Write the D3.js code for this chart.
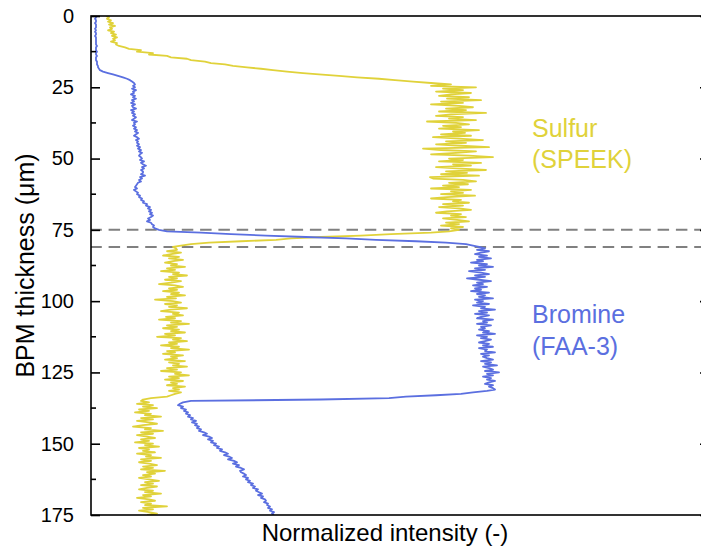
<!DOCTYPE html>
<html>
<head>
<meta charset="utf-8">
<script src="https://cdn.jsdelivr.net/npm/d3@7"></script>
<style>
  body { margin: 0; background: #fff; }
  svg text { font-family: "Liberation Sans", Arial, sans-serif; }
</style>
</head>
<body>
<div id="chart"></div>
<script>
// depth grid of the line scan (um), 0.5 um step
const depth = d3.range(0, 175.5, 0.5);

// S signal (SPEEK), a.u.
const sulfur = [
  15,18,16,20,17,22,18,24,19,21,
  17,23,20,25,21,26,22,24,20,26,
  25,28,34,38,50,46,62,58,76,80,
  96,100,114,120,134,142,156,170,182,196,
  212,228,248,266,288,304,322,340,360,340,
  385,352,372,345,380,360,348,378,356,390,
  350,372,340,368,382,355,375,348,395,360,
  345,372,358,385,336,365,378,352,370,348,
  388,362,374,350,380,342,368,392,355,375,
  345,370,398,332,350,385,365,340,378,402,
  358,372,348,390,362,380,345,370,395,355,
  376,350,388,339,342,372,385,358,377,352,
  368,340,380,360,372,350,384,356,340,370,
  362,378,352,372,348,368,380,356,345,370,
  360,375,352,366,378,355,368,350,372,360,
  368,358,340,300,270,230,200,185,150,118,
  100,90,82,85,86,76,90,80,72,88,
  78,92,82,74,86,80,94,76,84,70,
  88,82,96,78,86,74,90,80,68,84,
  92,78,86,72,88,80,94,76,85,64,
  82,90,74,86,78,96,80,70,88,82,
  92,75,84,68,90,80,98,76,86,72,
  88,80,94,74,84,66,90,82,96,78,
  86,70,88,80,98,76,84,72,92,80,
  86,74,94,78,88,82,96,76,86,70,
  90,84,98,78,88,74,92,80,86,76,
  94,82,88,78,90,84,80,76,60,52,
  50,58,46,62,52,66,48,58,44,60,
  54,70,50,62,46,58,66,52,42,60,
  54,72,50,62,46,56,64,50,58,44,
  62,54,68,48,58,52,64,46,60,55,
  70,50,60,48,58,66,52,62,50,74,
  56,64,52,60,48,58,68,54,62,50,
  66,56,48,62,54,70,52,60,46,58,
  64,50,60,54,76,52,62,48,58,66,
  56
];

// Br signal (FAA-3), a.u.
const bromine = [
  5,5,4,5,5,4,5,5,5,4,
  5,4,5,5,4,5,5,5,5,5,
  5,6,5,5,5,6,5,5,6,5,
  5,5,6,6,6,7,7,8,9,12,
  17,22,27,32,36,39,41,43,44,42,
  44,41,45,42,43,40,44,42,45,41,
  43,40,44,41,42,45,40,43,41,44,
  42,45,43,41,46,43,44,42,45,43,
  46,44,47,45,43,46,48,45,47,46,
  48,46,49,47,50,48,51,49,48,50,
  51,49,53,50,52,55,51,53,50,52,
  52,50,54,49,51,48,50,47,46,45,
  44,46,43,45,47,46,49,48,51,50,
  53,52,56,55,59,57,60,58,61,59,
  62,60,57,59,56,60,61,63,62,64,
  68,76,110,140,175,215,255,285,325,355,
  375,382,388,394,386,398,390,384,396,388,
  400,386,392,380,396,388,402,384,394,378,
  390,398,384,394,376,388,400,386,392,382,
  396,384,390,380,398,386,394,388,402,384,
  392,386,398,382,394,390,404,388,396,384,
  398,390,386,402,392,396,386,400,390,394,
  388,398,392,404,386,396,390,400,394,388,
  398,392,402,388,396,394,404,390,398,392,
  396,402,390,400,394,406,392,398,402,394,
  408,396,402,392,400,396,404,398,394,402,
  398,402,404,396,382,370,345,315,298,230,
  100,92,89,87,92,90,95,93,97,95,
  99,97,102,100,105,101,106,104,108,106,
  110,108,113,116,112,118,121,117,122,120,
  125,123,128,126,131,129,134,137,133,138,
  141,137,143,146,142,148,145,150,153,149,
  150,153,155,152,157,155,159,157,162,160,
  164,162,167,165,168,171,167,172,170,174,
  175,173,177,176,179,177,181,179,183,181,
  183
];

const yTicks = [0, 25, 50, 75, 100, 125, 150, 175];
const yMinorTicks = [12.5, 37.5, 62.5, 87.5, 112.5, 137.5, 162.5];
const interfaces = [75, 81];
const sulfurLabel = ["Sulfur", "(SPEEK)"];
const bromineLabel = ["Bromine", "(FAA-3)"];

const W = 701, H = 550;
const margin = { top: 16, right: -8, bottom: 35, left: 91 };
const width = W - margin.left - margin.right;
const height = H - margin.top - margin.bottom;

const yellow = "#e0d23a";
const blue = "#5b6fe0";

const svg = d3.select("#chart").append("svg")
  .attr("width", W)
  .attr("height", H);

const g = svg.append("g")
  .attr("transform", `translate(${margin.left},${margin.top})`);

const x = d3.scaleLinear().domain([0, 618]).range([0, width]);
const y = d3.scaleLinear().domain([0, 175]).range([0, height]);

g.append("clipPath").attr("id", "clip")
  .append("rect").attr("width", width).attr("height", height);

// interface lines
g.selectAll(".iface")
  .data(interfaces)
  .join("line")
  .attr("x1", 0)
  .attr("x2", width)
  .attr("y1", d => y(d))
  .attr("y2", d => y(d))
  .attr("stroke", "#808080")
  .attr("stroke-width", 2)
  .attr("stroke-dasharray", "11.5,6.8")
  .attr("stroke-dashoffset", 0.7);

const line = d3.line()
  .x(d => x(d.v))
  .y(d => y(d.t));

const sData = depth.map((t, i) => ({ t, v: sulfur[i] }));
const bData = depth.map((t, i) => ({ t, v: bromine[i] }));

const curves = g.append("g").attr("clip-path", "url(#clip)");

curves.append("path")
  .datum(sData)
  .attr("fill", "none")
  .attr("stroke", yellow)
  .attr("stroke-width", 1.8)
  .attr("stroke-linejoin", "round")
  .attr("d", line);

curves.append("path")
  .datum(bData)
  .attr("fill", "none")
  .attr("stroke", blue)
  .attr("stroke-width", 1.8)
  .attr("stroke-linejoin", "round")
  .attr("d", line);

// frame
g.append("rect")
  .attr("width", width)
  .attr("height", height)
  .attr("fill", "none")
  .attr("stroke", "#000")
  .attr("stroke-width", 1.6);

// left axis, ticks inside
const yAxis = g.append("g")
  .call(d3.axisLeft(y).tickValues(yTicks).tickSize(-9).tickPadding(17).tickSizeOuter(0));
yAxis.select(".domain").remove();
yAxis.selectAll(".tick line").attr("stroke-width", 1.6);
yAxis.selectAll(".tick text")
  .attr("font-size", 20)
  .attr("fill", "#000")
  .style("font-family", "'Liberation Sans', Arial, sans-serif");

g.append("g")
  .selectAll("line")
  .data(yMinorTicks)
  .join("line")
  .attr("x1", 0).attr("x2", 5)
  .attr("y1", d => y(d)).attr("y2", d => y(d))
  .attr("stroke", "#000").attr("stroke-width", 1.6);

// right axis (mirror), sits just past the window edge
const yRight = g.append("g")
  .attr("transform", `translate(${width},0)`)
  .call(d3.axisRight(y).tickValues(yTicks).tickSize(-9).tickFormat(""));
yRight.select(".domain").remove();
yRight.selectAll(".tick line").attr("stroke-width", 1.6);

// axis titles
svg.append("text")
  .attr("transform", `translate(34,${margin.top + height / 2}) rotate(-90)`)
  .attr("text-anchor", "middle")
  .attr("font-size", 25)
  .text("BPM thickness (\u03bcm)");

svg.append("text")
  .attr("x", 385)
  .attr("y", 541)
  .attr("text-anchor", "middle")
  .attr("font-size", 24)
  .text("Normalized intensity (-)");

// series labels
g.append("text")
  .attr("x", x(441))
  .attr("y", y(42.4))
  .attr("font-size", 25)
  .attr("fill", yellow)
  .selectAll("tspan")
  .data(sulfurLabel)
  .join("tspan")
  .attr("x", x(441))
  .attr("dy", (d, i) => i ? 31 : 0)
  .text(d => d);

g.append("text")
  .attr("x", x(441))
  .attr("y", y(107.7))
  .attr("font-size", 25)
  .attr("fill", blue)
  .selectAll("tspan")
  .data(bromineLabel)
  .join("tspan")
  .attr("x", x(441))
  .attr("dy", (d, i) => i ? 32 : 0)
  .text(d => d);
</script>
</body>
</html>
